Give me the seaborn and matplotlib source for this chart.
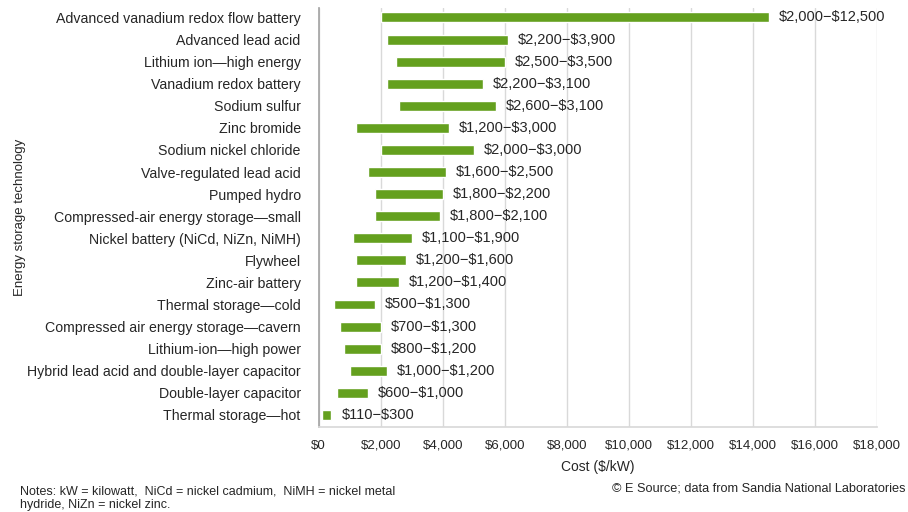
import matplotlib
matplotlib.use("Agg")
import matplotlib.pyplot as plt
import seaborn as sns
import pandas as pd

technologies = [
    "Advanced vanadium redox flow battery",
    "Advanced lead acid",
    "Lithium ion\u2014high energy",
    "Vanadium redox battery",
    "Sodium sulfur",
    "Zinc bromide",
    "Sodium nickel chloride",
    "Valve-regulated lead acid",
    "Pumped hydro",
    "Compressed-air energy storage\u2014small",
    "Nickel battery (NiCd, NiZn, NiMH)",
    "Flywheel",
    "Zinc-air battery",
    "Thermal storage\u2014cold",
    "Compressed air energy storage\u2014cavern",
    "Lithium-ion\u2014high power",
    "Hybrid lead acid and double-layer capacitor",
    "Double-layer capacitor",
    "Thermal storage\u2014hot",
]
low_cost = [2000, 2200, 2500, 2200, 2600, 1200, 2000, 1600, 1800, 1800,
            1100, 1200, 1200, 500, 700, 800, 1000, 600, 110]
high_cost = [12500, 3900, 3500, 3100, 3100, 3000, 3000, 2500, 2200, 2100,
             1900, 1600, 1400, 1300, 1300, 1200, 1200, 1000, 300]
x_ticks = [0, 2000, 4000, 6000, 8000, 10000, 12000, 14000, 16000, 18000]

df = pd.DataFrame({"tech": technologies, "low": low_cost, "high": high_cost})

sns.set_theme(style="white")
plt.rcParams["font.family"] = ["Liberation Sans", "DejaVu Sans"]
plt.rcParams["text.parse_math"] = False

fig = plt.figure(figsize=(9.08, 5.12), dpi=100)
ax = fig.add_axes([0.351, 0.166, 0.615, 0.818])

green = "#64A01E"
sns.barplot(data=df, x="high", y="tech", orient="h", color=green,
            width=0.45, saturation=1, ax=ax, zorder=3)
# the chart draws each bar starting at the low value with the high value as length
for patch, lo in zip(ax.patches, df["low"]):
    patch.set_x(lo)

for i, (lo, hi) in enumerate(zip(df["low"], df["high"])):
    ax.text(lo + hi + 320, i, f"${lo:,}\u2212${hi:,}", va="center", ha="left",
            fontsize=10.5, color="#262626", zorder=4)

ax.set_xlim(0, 18000)
ax.set_ylim(18.55, -0.42)
ax.set_xticks(x_ticks)
ax.set_xticklabels([f"${v:,}" for v in x_ticks], fontsize=9.5, color="#262626")
ax.tick_params(axis="y", labelsize=10.2, labelcolor="#262626", length=0, pad=13)
ax.tick_params(axis="x", length=0, pad=9)
ax.grid(axis="x", color="#d9d9d9", linewidth=1, zorder=0)
ax.grid(axis="y", visible=False)
for s in ["top", "right"]:
    ax.spines[s].set_visible(False)
ax.spines["left"].set_color("#a6a6a6")
ax.spines["bottom"].set_color("#d9d9d9")
ax.set_ylabel("Energy storage technology", fontsize=9.5, color="#262626")
ax.yaxis.set_label_coords(-0.525, 0.5)
ax.set_xlabel("Cost ($/kW)", fontsize=10, color="#262626", labelpad=6)

fig.text(0.022, 0.027, "Notes: kW = kilowatt,  NiCd = nickel cadmium,  NiMH = nickel metal\nhydride, NiZn = nickel zinc.",
         fontsize=9, color="#262626", ha="left", va="center", linespacing=1.25)
fig.text(0.997, 0.045, "\u00a9 E Source; data from Sandia National Laboratories",
         fontsize=9.2, color="#262626", ha="right", va="center")

fig.savefig("out.png", dpi=100)
